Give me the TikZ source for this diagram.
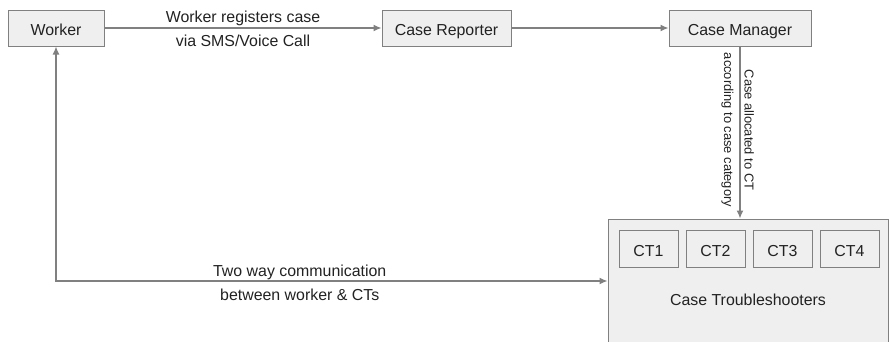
\documentclass[tikz,border=0pt]{standalone}
\usepackage{fontspec}
\setmainfont{Liberation Sans}
\usetikzlibrary{arrows.meta}
\definecolor{boxfill}{HTML}{EFEFEF}
\definecolor{boxline}{HTML}{808080}
\definecolor{txt}{HTML}{222222}

\begin{document}
\begin{tikzpicture}[>={Latex[length=8pt,width=7pt]}, x=1pt, y=-1pt,
    font=\fontsize{15.9}{19}\selectfont, text=txt,
    box/.style={draw=boxline, fill=boxfill, line width=1pt, minimum height=36pt,
      text height=14.6pt, text depth=0pt, inner sep=0pt},
    flow/.style={draw=boxline, line width=1.3pt}]
    \useasboundingbox (0,0) rectangle (889,341);
    \clip (0,0) rectangle (889,341);
    % Reporting chain
    \node[box, minimum width=96pt] (worker) at (56,28) {Worker};
    \node[box, minimum width=129pt] (reporter) at (446.5,28) {Case Reporter};
    \node[box, minimum width=142pt] (manager) at (740,28) {Case Manager};
    % Troubleshooter group and its members
    \node[box, minimum width=280pt, minimum height=124pt] (ts) at (748,281) {};
    \node (tslabel) at (748,300) {Case Troubleshooters};
    \foreach \i in {1,...,4} {
      \node[box, minimum width=59pt, minimum height=37pt] (ct\i) at ({648.5+67*(\i-1)},249) {CT\i};
    }
    % Connectors with their labels
    \draw[flow,->] (worker) -- (reporter)
      node[midway, anchor=base, yshift=6pt] {Worker registers case}
      node[midway, anchor=base, yshift=-18.5pt] {via SMS/Voice Call};
    \draw[flow,->] (reporter) -- (manager);
    \draw[flow,->] (manager.south) -- (manager.south |- ts.north);
    \node[rotate=-90, align=center, font=\fontsize{12.9}{20.5}\selectfont] (alloc) at (737.7,130)
      {Case allocated to CT\\according to case category};
    \draw[flow,<->] (ts.west) -| (worker.south)
      node[pos=0.279, anchor=base, yshift=5pt] {Two way communication}
      node[pos=0.279, anchor=base, yshift=-19pt] {between worker \& CTs};
\end{tikzpicture}
\end{document}
